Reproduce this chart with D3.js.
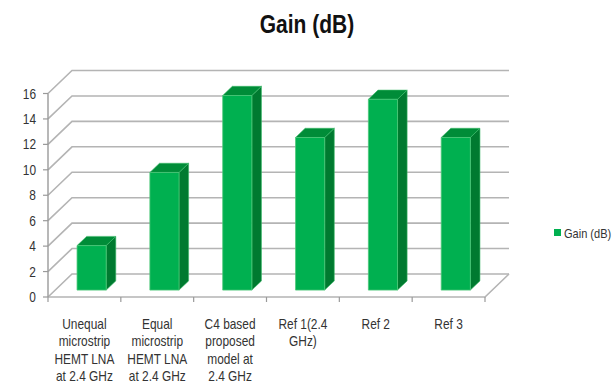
<!DOCTYPE html>
<html><head><meta charset="utf-8">
<script src="https://cdn.jsdelivr.net/npm/d3@7"></script>
<style>
html,body{margin:0;padding:0;background:#fff;overflow:hidden;}
svg{display:block;font-family:"Liberation Sans Narrow","Arial Narrow","Liberation Sans",sans-serif;}
</style></head><body>
<svg id="chart" width="616" height="392"></svg>
<script>
const categories = [
  ["Unequal","microstrip","HEMT LNA","at 2.4 GHz"],
  ["Equal","microstrip","HEMT LNA","at 2.4 GHz"],
  ["C4 based","proposed","model at","2.4 GHz"],
  ["Ref 1(2.4","GHz)"],
  ["Ref 2"],
  ["Ref 3"]
];
const gainValues = [3.5, 9.25, 15.3, 12, 15, 12];
const yTicks = [0,2,4,6,8,10,12,14,16];
const seriesName = "Gain (dB)";
const title = "Gain (dB)";

const SX = 0.85; // horizontal condensing to mimic the narrow original face
const svg = d3.select("#chart");
const x0 = 48, x1 = 485, yBase = 297;
const DX = 24, DY = -23;
const x = d3.scaleBand().domain(d3.range(categories.length)).range([x0, x1]).paddingInner(0).paddingOuter(0);
const y = d3.scaleLinear().domain([0,16]).range([0, 203.5]);
const proj = (px, v, f) => [px + DX*f, yBase - y(v) + DY*f];
const label = (parent, tx, ty, sx) => parent.append("text")
  .attr("transform", `translate(${tx},${ty}) scale(${sx},1)`);

const grid = "#b4b4b4";
const g = svg.append("g");
yTicks.forEach(t => {
  const a = proj(x0, t, 0), b = proj(x0, t, 1), c = proj(x1, t, 1);
  g.append("path").attr("d", `M${a}L${b}L${c[0]},${c[1]}`)
    .attr("fill","none").attr("stroke",grid).attr("stroke-width",1.6);
});
{
  const a = proj(x0,0,0), b = proj(x1,0,0), c = proj(x1,0,1);
  g.append("path").attr("d", `M${a}L${b}L${c[0]},${c[1]}`).attr("fill","none").attr("stroke",grid).attr("stroke-width",1.6);
}
g.append("line").attr("x1",x0).attr("x2",x0).attr("y1",yBase).attr("y2",yBase-y(16)).attr("stroke","#9a9a9a").attr("stroke-width",1.4);
yTicks.forEach(t => {
  const yy = yBase - y(t);
  g.append("line").attr("x1",x0-5).attr("x2",x0).attr("y1",yy).attr("y2",yy).attr("stroke","#9a9a9a").attr("stroke-width",1.2);
  label(g, 36, yy, SX).attr("dy","0.36em").attr("text-anchor","end")
    .attr("font-size",14).attr("fill","#333").text(t);
});
d3.range(categories.length+1).forEach(i => {
  const xx = i < categories.length ? x(i) : x1;
  g.append("line").attr("x1",xx).attr("x2",xx).attr("y1",yBase).attr("y2",yBase+5).attr("stroke","#9a9a9a").attr("stroke-width",1.2);
});
const f0 = 0.3, f1 = 0.7, bw = x.bandwidth()*0.4;
const poly = pts => "M" + pts.map(q=>q.join(",")).join("L") + "Z";
gainValues.forEach((v,i) => {
  const cx = x(i) + x.bandwidth()/2;
  const l = cx - bw/2, r = cx + bw/2;
  const fr = [proj(l,0,f0), proj(r,0,f0), proj(r,v,f0), proj(l,v,f0)];
  const side = [proj(r,0,f0), proj(r,0,f1), proj(r,v,f1), proj(r,v,f0)];
  const top = [proj(l,v,f0), proj(r,v,f0), proj(r,v,f1), proj(l,v,f1)];
  g.append("path").attr("d",poly(side)).attr("fill","#007a30").attr("stroke","#3dbb6a").attr("stroke-width",0.6);
  g.append("path").attr("d",poly(top)).attr("fill","#008c38").attr("stroke","#3dbb6a").attr("stroke-width",0.6);
  g.append("path").attr("d",poly(fr)).attr("fill","#00b050").attr("stroke","#4cc878").attr("stroke-width",0.8);
});
categories.forEach((lines,i) => {
  const t = label(g, x(i)+x.bandwidth()/2, 329, SX).attr("text-anchor","middle").attr("font-size",14).attr("fill","#333");
  lines.forEach((ln,k) => {
    t.append("tspan").attr("x", 0).attr("y", k*17.5).text(ln);
  });
});
label(svg, 307, 33, 0.84).attr("text-anchor","middle")
  .attr("font-size",25).attr("font-weight","bold").attr("fill","#111").text(title);
svg.append("rect").attr("x",554).attr("y",229).attr("width",7).attr("height",7).attr("fill","#00b050");
label(svg, 564, 233, SX).attr("dy","0.36em").attr("font-size",13).attr("fill","#333").text(seriesName);
</script>
</body></html>
